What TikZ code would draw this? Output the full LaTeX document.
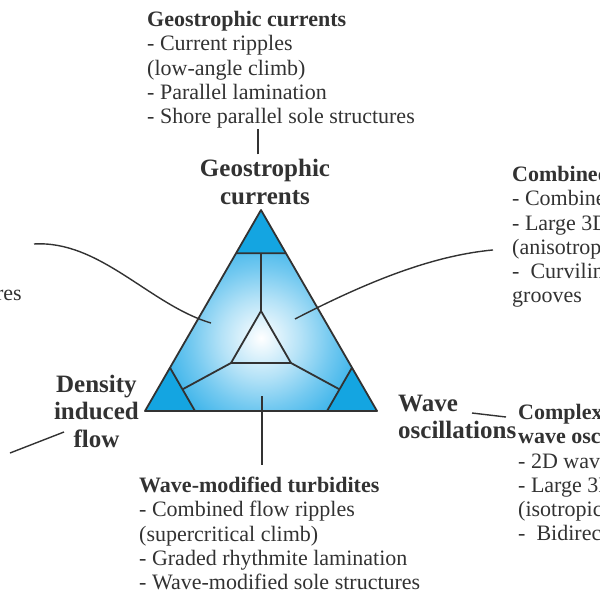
\documentclass[tikz,border=0pt]{standalone}
\usepackage{fontspec}
\setmainfont{Liberation Serif}
\usepackage{tikz}
\usetikzlibrary{positioning, calc}
\usepackage{xcolor}

\definecolor{cornerblue}{RGB}{20,165,225}
\definecolor{edgeblue}{RGB}{40,172,232}
\definecolor{ink}{RGB}{50,50,50}
\pgfdeclareradialshading{regionshade}{\pgfpointorigin}{color(0bp)=(white); color(8bp)=(edgeblue!35); color(14bp)=(edgeblue!65); color(22bp)=(edgeblue); color(50bp)=(edgeblue)}

\tikzset{
  notes/.style={anchor=north west, inner sep=0pt, align=left, text=ink,
    font=\fontsize{22}{24.3}\selectfont},
  force/.style={inner sep=0pt, align=center, text=ink,
    font=\fontsize{25}{27.5}\selectfont\bfseries},
  edge/.style={draw=ink, line width=1.8pt, line join=round},
  leader/.style={draw=ink, line width=1.4pt}
}

\begin{document}
\begin{tikzpicture}[x=1pt, y=-1pt]
    \useasboundingbox (0,0) rectangle (600,600);
    \coordinate (A) at (261,210);
    \coordinate (B) at (145,411);
    \coordinate (C) at (377,411);
    \coordinate (AB) at ($(A)!0.2155!(B)$);
    \coordinate (AC) at ($(A)!0.2155!(C)$);
    \coordinate (BA) at ($(B)!0.2155!(A)$);
    \coordinate (BC) at ($(B)!0.2155!(C)$);
    \coordinate (CA) at ($(C)!0.2155!(A)$);
    \coordinate (CB) at ($(C)!0.2155!(B)$);
    \coordinate (a) at (261,311);
    \coordinate (b) at (231,363);
    \coordinate (c) at (291,363);
    \begin{scope}
      \clip (A) -- (B) -- (C) -- cycle;
      \fill [edgeblue] (A) -- (B) -- (C) -- cycle;
      \shade [shading=regionshade] (261,338) circle (125);
      \fill [cornerblue] (A) -- (AB) -- (AC) -- cycle;
      \fill [cornerblue] (B) -- (BA) -- (BC) -- cycle;
      \fill [cornerblue] (C) -- (CA) -- (CB) -- cycle;
    \end{scope}
    \draw [edge] (A) -- (B) -- (C) -- cycle;
    \draw [edge] (AB) -- (AC) (BA) -- (BC) (CA) -- (CB);
    \draw [edge] (a) -- ($(AB)!0.5!(AC)$);
    \draw [edge] (b) -- ($(BA)!0.5!(BC)$);
    \draw [edge] (c) -- ($(CA)!0.5!(CB)$);
    \draw [edge] (a) -- (b) -- (c) -- cycle;

    \node [force, above=5pt of A, xshift=4pt] (geolabel) {Geostrophic\\currents};
    \node [force, left=6pt of B] (denlabel) {Density\\induced\\flow};
    \node [force, right=21pt of C, yshift=-6pt, align=left] (wavelabel) {Wave\\oscillations};

    \node [notes] (geoblock) at (147,11) {\textbf{Geostrophic currents}\\- Current ripples\\(low-angle climb)\\- Parallel lamination\\- Shore parallel sole structures};
    \node [notes] (combblock) at (512,166) {\textbf{Combined}\\- Combined\\- Large 3D\\(anisotrop\\- \ Curvilin\\grooves};
    \node [notes] (cplxblock) at (518,404) {\textbf{Complex}\\\textbf{wave osc}\\- 2D wav\\- Large 3D\\(isotropic\\- \ Bidirec};
    \node [notes] (turbblock) at (139,477) {\textbf{Wave-modified turbidites}\\- Combined flow ripples\\(supercritical climb)\\- Graded rhythmite lamination\\- Wave-modified sole structures};
    \node [notes, anchor=base east] (leftblock) at (22,300) {res};

    \coordinate (topfoot) at (258,0);
    \coordinate (regionL) at (211,323);
    \coordinate (regionR) at (295,319);
    \coordinate (regionS) at (262,396);
    \coordinate (leftend) at (34,244);
    \coordinate (denend) at (10,453);
    \coordinate (denstart) at (64,432);
    \coordinate (wavestart) at (472,413);
    \coordinate (waveend) at (506,417);

    \draw [leader, shorten <=5pt] (geolabel.north -| topfoot) -- (geoblock.south -| topfoot);
    \draw [leader] (leftend) .. controls (100,240) and (150,305) .. (regionL);
    \draw [leader] (regionR) .. controls (380,275) and (440,255) .. ([xshift=-19pt, yshift=-13pt]combblock.west);
    \draw [leader, shorten >=12pt] (regionS) -- (regionS |- turbblock.north);
    \draw [leader] (denstart) -- (denend);
    \draw [leader] (wavestart) -- (waveend);
\end{tikzpicture}
\end{document}
